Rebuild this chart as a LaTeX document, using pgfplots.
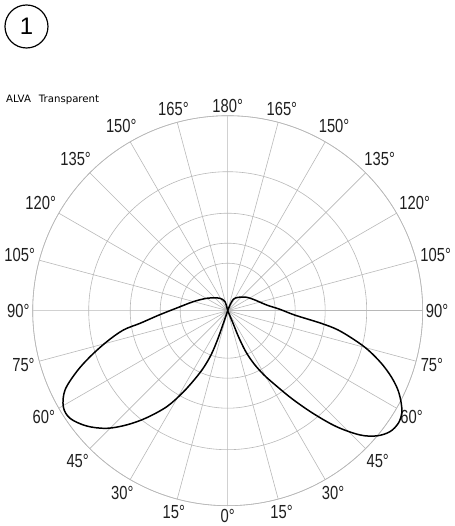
\documentclass[border=0pt]{standalone}
\usepackage{fontspec}
\setmainfont{Liberation Sans}
\newfontfamily\smallfont{DejaVu Sans}
\usepackage{graphicx}
\usepackage{pgfplots}
\usepackage{pgfplotstable}
\usepgfplotslibrary{polar}
\pgfplotsset{compat=1.18}
\newcommand\dl[1]{\scalebox{0.78}[1]{#1°}}
% angle a: degrees from the downward vertical (right side positive, left side negative); r: radius
\pgfplotstableread{
a r
0 0
158 6.1
153.8 12.7
141.6 17.1
125.2 23.3
111.4 29.3
98.3 39.4
91.5 52.3
86.3 67.1
82.3 94.4
80.1 112
77 130.3
74.4 145.7
71.1 162.4
68 176.4
65 187.9
62 196.5
59.5 202
56.6 204.4
53.3 202.4
50 194.7
46.8 181.5
43.2 159.2
39.8 134
36.3 110
33 90
29.5 74
26.3 59
23.8 44.5
22.5 28
23 13.8
0 0
}\rightlobe
\pgfplotstableread{
a r
0 0
-19 13.3
-19.3 30
-20.5 46
-22.8 61
-25.5 75
-28.7 93
-32.4 113.7
-37.3 135
-41.5 152.5
-45.8 168.7
-50.7 182.1
-55.7 190.9
-59.7 190.4
-64 181
-68 163
-71.5 145.2
-75.6 124.9
-79.5 106.2
-81.8 88.6
-85.5 72
-88.5 62
-93 51
-104.7 35.6
-120.6 24.4
-133.5 18.5
-148.2 14.6
-163.3 9.4
0 0
}\leftlobe
\begin{document}
\begin{tikzpicture}[x=1bp,y=1bp]
\useasboundingbox (-227.7,-215.3) rectangle (227.3,310.7);
\begin{polaraxis}[
  at={(0,0)}, anchor=center,
  scale only axis, width=390bp, height=390bp,
  xmin=0, xmax=360, ymin=0, ymax=195,
  xtick={0,15,...,345},
  xticklabels={\dl{90},\dl{105},\dl{120},\dl{135},\dl{150},\dl{165},\dl{180},\dl{165},\dl{150},\dl{135},\dl{120},\dl{105},\dl{90},\dl{75},\dl{60},\dl{45},\dl{30},\dl{15},\dl{0},\dl{15},\dl{30},\dl{45},\dl{60},\dl{75}},
  ytick={47.5,67.5,97.5,139,195},
  yticklabels={},
  grid=major,
  major grid style={draw=black!28, line width=0.6pt},
  axis line style={draw=black!28, line width=0.6pt},
  major tick length=0pt,
  xticklabel style={font=\fontsize{19}{19}\selectfont, text=black!88, inner sep=3pt},
  clip=false,
]
\addplot[black, line width=1.5pt, smooth, tension=0.55] table[x expr=\thisrow{a}-90, y=r] {\rightlobe};
\addplot[black, line width=1.5pt, smooth, tension=0.55] table[x expr=\thisrow{a}-90, y=r] {\leftlobe};
\end{polaraxis}
\draw[line width=1.2pt] (-201.2,284.2) circle (21.5);
\node at (-201.2,284.2) {\fontsize{24}{24}\selectfont 1};
\node[anchor=base west, inner sep=0] at (-221.7,208) {\smallfont\fontsize{10.2}{12}\selectfont ALVA\hspace{8bp}Transparent};
\end{tikzpicture}
\end{document}
